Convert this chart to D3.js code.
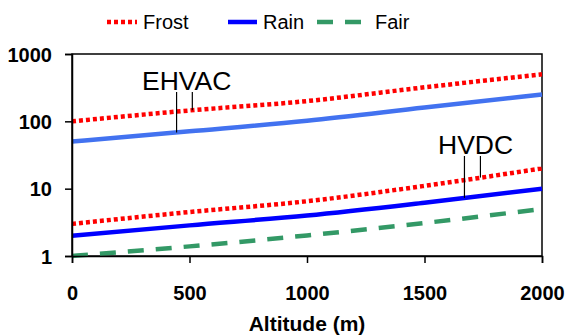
<!DOCTYPE html>
<html>
<head>
<meta charset="utf-8">
<script src="https://cdn.jsdelivr.net/npm/d3@7"></script>
<style>
  body { margin: 0; background: #fff; }
  svg { font-family: Arial, "Liberation Sans", sans-serif; }
  .tick text { font-weight: bold; font-size: 20px; fill: #000; }
</style>
</head>
<body>
<div id="chart"></div>
<script>
// altitude points (m)
var altitudes = [0, 500, 1000, 1500, 2000];

// EHVAC
var ehvacFrost = [100, 145, 200, 320, 500];
var ehvacRain = [50, 71, 102, 160, 250];
// HVDC
var hvdcFrost = [3, 4.5, 6.5, 11, 20];
var hvdcRain = [2, 2.85, 4.0, 6.2, 10];
var hvdcFair = [1, 1.39, 2.02, 3.09, 5];

var xTicks = [0, 500, 1000, 1500, 2000];
var yTicks = [1, 10, 100, 1000];

var legendNames = ["Frost", "Rain", "Fair"];

var width = 567, height = 336;
var margin = {top: 54, right: 25, bottom: 80, left: 72};

var svg = d3.select("#chart").append("svg")
    .attr("width", width).attr("height", height);

var x = d3.scaleLinear().domain([0, 2000]).range([margin.left, width - margin.right]);
var y = d3.scaleLog().domain([1, 1000]).range([height - margin.bottom, margin.top]);

var styles = {
    Frost: {stroke: "#ff0000", width: 4.5, dash: "4,3"},
    Rain: {stroke: "#0000ff", width: 4.5, dash: null},
    RainE: {stroke: "#4272f0", width: 4.5, dash: null},
    Fair: {stroke: "#339966", width: 4.5, dash: "16,12"}
};

// frame
svg.append("rect")
    .attr("x", x(0)).attr("y", y(1000))
    .attr("width", x(2000) - x(0)).attr("height", y(1) - y(1000))
    .attr("fill", "none").attr("stroke", "#000").attr("stroke-width", 1.5);

var line = d3.line()
    .x(function(d){ return x(d[0]); })
    .y(function(d){ return y(d[1]); })
    .curve(d3.curveMonotoneX);

function drawSeries(vals, st){
    svg.append("path")
        .datum(altitudes.map(function(a, i){ return [a, vals[i]]; }))
        .attr("d", line)
        .attr("fill", "none")
        .attr("stroke", st.stroke)
        .attr("stroke-width", st.width)
        .attr("stroke-dasharray", st.dash);
}

drawSeries(hvdcFair, styles.Fair);
drawSeries(hvdcRain, styles.Rain);
drawSeries(hvdcFrost, styles.Frost);
drawSeries(ehvacRain, styles.RainE);
drawSeries(ehvacFrost, styles.Frost);

// axes
var xAxis = svg.append("g")
    .attr("transform", "translate(0," + y(1) + ")")
    .call(d3.axisBottom(x).tickValues(xTicks).tickSize(7).tickPadding(23).tickFormat(d3.format("d")));
var yAxis = svg.append("g")
    .attr("transform", "translate(" + x(0) + ",0)")
    .call(d3.axisLeft(y).tickValues(yTicks).tickSize(7).tickPadding(13).tickFormat(d3.format("d")));
[xAxis, yAxis].forEach(function(a){
    a.select(".domain").attr("stroke-width", 1.5);
    a.selectAll(".tick line").attr("stroke-width", 1.5);
});
yAxis.selectAll(".tick text").attr("dy", "0.36em");

svg.append("text")
    .attr("x", x(1000)).attr("y", 331)
    .attr("text-anchor", "middle")
    .style("font-weight", "bold").style("font-size", "21px")
    .text("Altitude (m)");

// annotations
function interp(vals, alt){
    var i = Math.min(Math.floor(alt / 500), 3);
    var t = (alt - altitudes[i]) / 500;
    return Math.exp(Math.log(vals[i]) * (1 - t) + Math.log(vals[i + 1]) * t);
}
function annotate(label, tx, ty, leaders){
    svg.append("text").attr("x", tx).attr("y", ty)
        .style("font-size", "26.5px").text(label);
    leaders.forEach(function(l){
        svg.append("line")
            .attr("x1", x(l[0])).attr("x2", x(l[0]))
            .attr("y1", ty + 2).attr("y2", y(interp(l[1], l[0])))
            .attr("stroke", "#000").attr("stroke-width", 1.2);
    });
}
annotate("EHVAC", 142, 90, [[445, ehvacRain], [512, ehvacFrost]]);
annotate("HVDC", 438, 154, [[1670, hvdcRain], [1738, hvdcFrost]]);

// legend
var legendX = [107, 228, 317];
var legendLen = [30, 29, 52];
var legendStyles = [styles.Frost, styles.Rain, styles.Fair];
var lg = svg.append("g");
legendNames.forEach(function(name, i){
    var st = legendStyles[i];
    lg.append("line")
        .attr("x1", legendX[i]).attr("x2", legendX[i] + legendLen[i])
        .attr("y1", 22).attr("y2", 22)
        .attr("stroke", st.stroke).attr("stroke-width", st.width)
        .attr("stroke-dasharray", st.dash);
    lg.append("text")
        .attr("x", legendX[i] + legendLen[i] + 6).attr("y", 22)
        .attr("dy", "0.36em")
        .style("font-size", "20px")
        .text(name);
});
</script>
</body>
</html>
